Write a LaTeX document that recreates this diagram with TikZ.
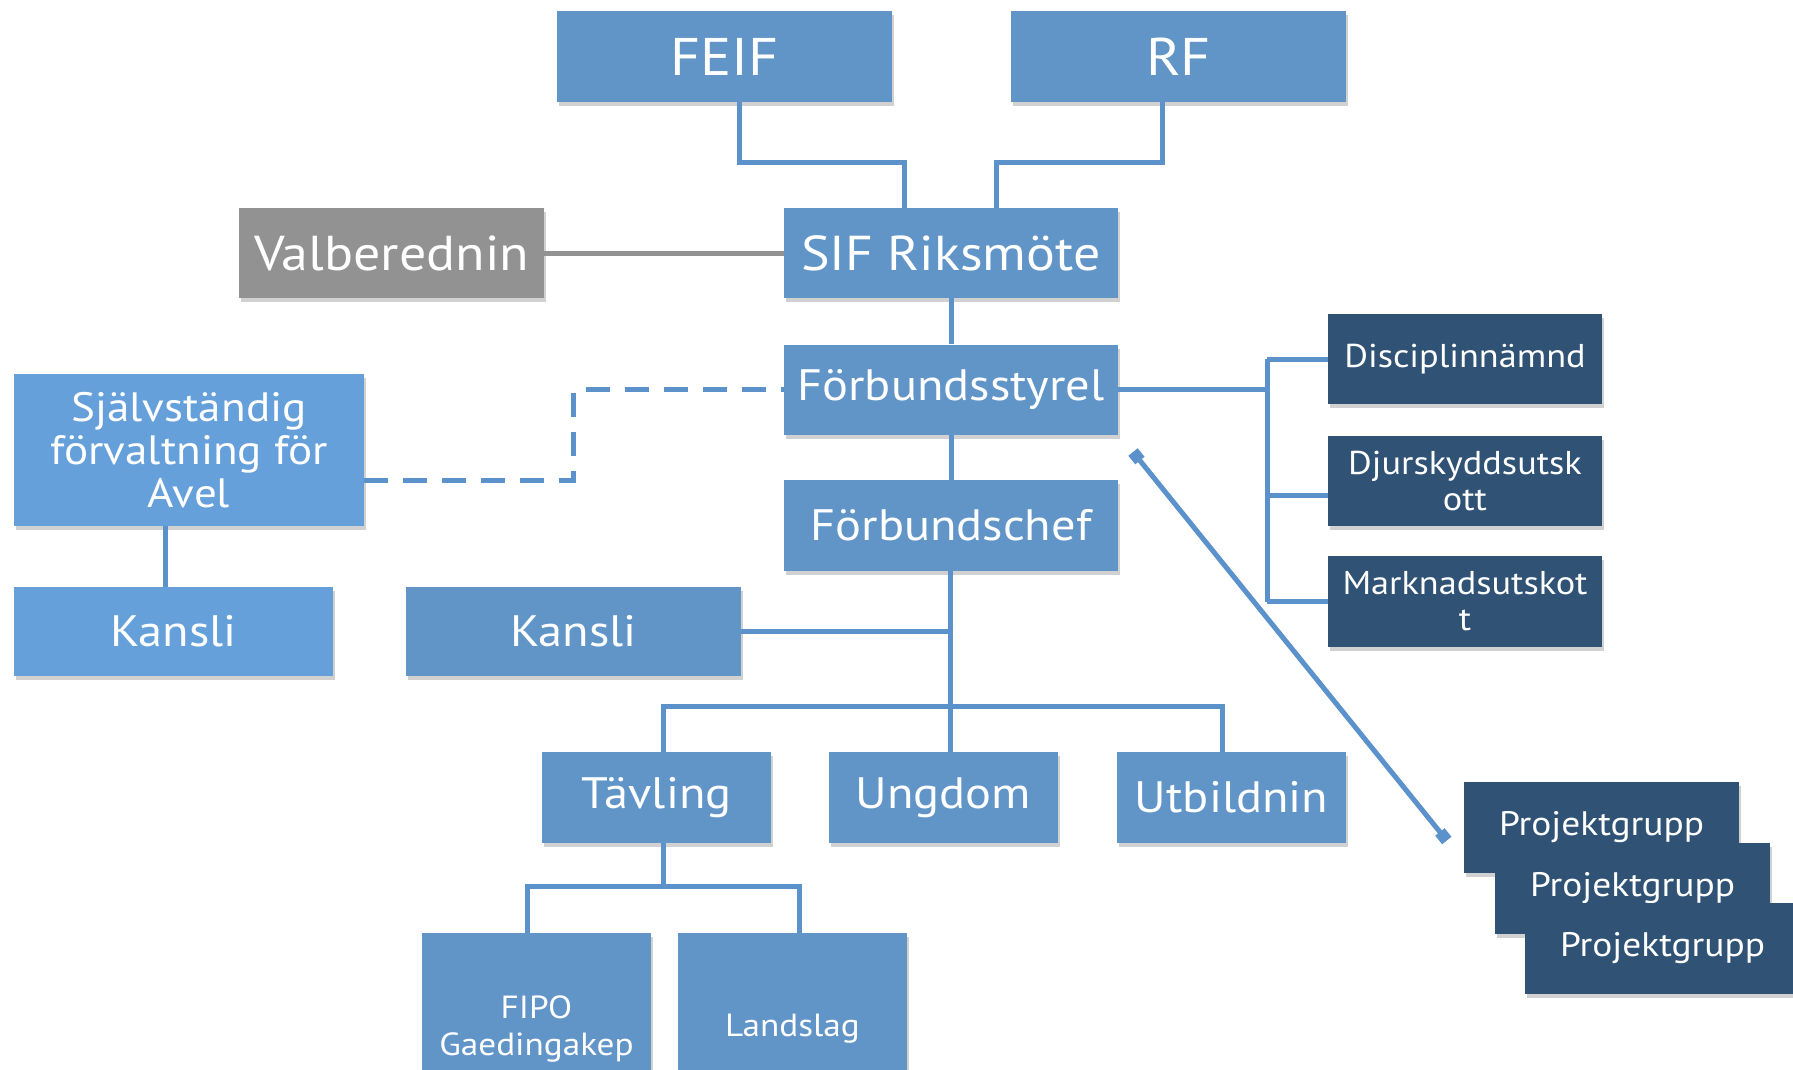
\documentclass[tikz,border=0pt]{standalone}
\usepackage{fontspec}
\setmainfont{PT Sans}[FakeStretch=1.1]
\usetikzlibrary{shadows,calc,arrows.meta}
\definecolor{boxblue}{RGB}{97,149,200}
\definecolor{lightblue}{RGB}{102,160,219}
\definecolor{navy}{RGB}{47,82,117}
\definecolor{boxgray}{RGB}{146,146,146}
\definecolor{lineblue}{RGB}{92,146,204}
\tikzset{
  box/.style={rectangle, fill=boxblue, text=white, inner sep=0pt, align=center,
    drop shadow={shadow xshift=2pt, shadow yshift=-4pt, opacity=0.18, fill=black}},
  bigbox/.style={box, minimum width=335pt, minimum height=91pt, font=\fontsize{53}{56}\selectfont},
  midbox/.style={box, minimum width=334pt, minimum height=90pt, font=\fontsize{49}{52}\selectfont},
  stdbox/.style={box, minimum width=334pt, minimum height=90pt, font=\fontsize{44}{48}\selectfont},
  smallbox/.style={box, minimum width=229pt, minimum height=91pt, font=\fontsize{44}{48}\selectfont},
  lowbox/.style={box, minimum width=229pt, minimum height=192pt, font=\fontsize{32}{37}\selectfont},
  navybox/.style={box, fill=navy, minimum width=274pt, minimum height=90pt, font=\fontsize{33}{36}\selectfont},
  projbox/.style={box, fill=navy, minimum width=275pt, minimum height=91pt, font=\fontsize{34}{37}\selectfont},
  conn/.style={draw=lineblue, line width=5pt},
  grayconn/.style={draw=boxgray, line width=5pt},
  dashconn/.style={draw=lineblue, line width=5pt, dash pattern=on 24pt off 15pt},
}
\begin{document}
\begin{tikzpicture}[x=1pt, y=-1pt]
\clip (0,0) rectangle (1793,1069);
\fill[white] (0,0) rectangle (1793,1069);

\node[bigbox] (feif) at (724.5,56.5) {FEIF};
\node[bigbox] (rf) at (1178.5,56.5) {RF};
\node[midbox] (sif) at (951,253) {SIF Riksmöte};
\node[midbox, fill=boxgray, minimum width=305pt] (val) at (391.5,253) {Valberednin};
\node[stdbox] (styr) at (951,389.5) {Förbundsstyrel};
\node[stdbox, minimum height=91pt] (chef) at (951,525.5) {Förbundschef};
\node[box, fill=lightblue, minimum width=350pt, minimum height=152pt, font=\fontsize{41}{43}\selectfont] (avel) at (189,450) {Självständig\\förvaltning för\\Avel};
\node[stdbox, fill=lightblue, minimum width=319pt, minimum height=89pt] (kansliL) at (173.5,631.5) {Kansli};
\node[stdbox, minimum width=335pt, minimum height=89pt] (kansliM) at (573.5,631.5) {Kansli};
\node[smallbox] (tav) at (656.5,797.5) {Tävling};
\node[smallbox] (ung) at (943.5,797.5) {Ungdom};
\node[smallbox] (utb) at (1231.5,797.5) {Utbildnin};
\node[lowbox] (fipo) at (536.5,1029) {FIPO\\Gaedingakep};
\node[lowbox] (land) at (792.5,1029) {Landslag};
\node[navybox] (disc) at (1465,359) {Disciplinnämnd};
\node[navybox] (djur) at (1465,481) {Djurskyddsutsk\\ott};
\node[navybox, minimum height=91pt] (mark) at (1465,601.5) {Marknadsutskot\\t};
\node[projbox] (pg1) at (1601.5,827.5) {Projektgrupp};
\node[projbox] (pg2) at (1632.5,888.5) {Projektgrupp};
\node[projbox] (pg3) at (1662.5,948.5) {Projektgrupp};

\coordinate (bus) at (1267,0);
\coordinate (d1) at (1133,452);

\draw[conn] ([xshift=14.5pt]feif.south) -- ++(0,60) -| ([xshift=-47pt]sif.north);
\draw[conn] ([xshift=-16.5pt]rf.south) -- ++(0,60) -| ([xshift=45pt]sif.north);
\draw[grayconn] (val.east) -- (sif.west);
\draw[conn] (sif.south) -- (styr.north);
\draw[conn] (styr.south) -- (chef.north);
\draw[conn] ([xshift=-1pt]chef.south) -- ([xshift=-1pt]chef.south |- ung.north);
\draw[conn] (kansliM.east) -- (kansliM.east -| chef.south);
\draw[conn] ([xshift=6.5pt]tav.north) -- ++(0,-45) -| ([xshift=-9.5pt]utb.north);
\draw[conn] ([xshift=6.5pt]tav.south) -- ++(0,44);
\draw[conn] ([xshift=-9.5pt]fipo.north) -- ++(0,-46) -| ([xshift=6.5pt]land.north);
\draw[conn] ([xshift=-24pt]avel.south) -- ([xshift=-24pt]avel.south |- kansliL.north);
\draw[dashconn] ($(avel.east)+(0,30)$) -| ($(styr.west)+(-210,0)$) -- (styr.west);
\draw[conn] (styr.east) -- (styr.east -| bus);
\draw[conn] (disc.west -| bus) -- (mark.west -| bus);
\draw[conn] (disc.west -| bus) -- (disc.west);
\draw[conn] ($(djur.west)+(0,14)$) -- ($(djur.west)+(-61,14)$);
\draw[conn] (mark.west -| bus) -- (mark.west);
\draw[draw=lineblue, line width=5pt, {Square[length=11pt,width=12pt]}-{Square[length=11pt,width=12pt]}] (d1) -- ($(pg1.west)+(-17,13)$);
\end{tikzpicture}
\end{document}
